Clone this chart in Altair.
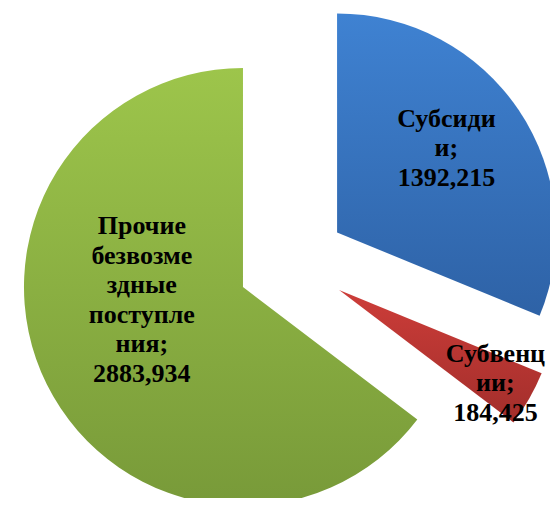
import altair as alt
import pandas as pd

categories = ["Субсидии", "Субвенции", "Прочие безвозмездные поступления"]
values = [1392.215, 184.425, 2883.934]
labels = [
    "Субсиди\nи;\n1392,215",
    "Субвенц\nии;\n184,425",
    "Прочие\nбезвозме\nздные\nпоступле\nния;\n2883,934",
]

# styling
gradients = {
    "Субсидии": ("#3f82d2", "#2e62a6"),
    "Субвенции": ("#cd3d39", "#a22e2b"),
    "Прочие безвозмездные поступления": ("#9dc54b", "#789a39"),
}
label_r = {"Субсидии": 138, "Субвенции": 182, "Прочие безвозмездные поступления": 102}
label_nudge = {"Субсидии": -3.8, "Субвенции": 1.0, "Прочие безвозмездные поступления": 19.0}

CX, CY, EXPLODE, R = 283.8, 254.8, 54.5, 219
LINE_H = 29.5

df = pd.DataFrame({
    "idx": list(range(len(categories))),
    "category": categories,
    "value": values,
    "label": labels,
    "lr": [label_r[c] for c in categories],
    "ln": [label_nudge[c] for c in categories],
})

base = alt.Chart(df).transform_joinaggregate(
    total="sum(value)"
).transform_window(
    cum="sum(value)", sort=[alt.SortField("idx")], frame=[None, 0]
).transform_calculate(
    t0="2*PI*(datum.cum - datum.value)/datum.total",
    t1="2*PI*datum.cum/datum.total",
).transform_calculate(
    mid="(datum.t0 + datum.t1)/2",
).transform_calculate(
    cx=f"{CX} + {EXPLODE}*sin(datum.mid)",
    cy=f"{CY} - {EXPLODE}*cos(datum.mid)",
    nl="length(split(datum.label, '\\n'))",
).transform_calculate(
    lx="datum.cx + datum.lr*sin(datum.mid + datum.ln*PI/180)",
    ly=f"datum.cy - datum.lr*cos(datum.mid + datum.ln*PI/180) - (datum.nl - 1)*{LINE_H}/2",
)

layers = []
for cat in categories:
    top, bottom = gradients[cat]
    grad = alt.LinearGradient(
        gradient="linear",
        stops=[alt.GradientStop(color=top, offset=0), alt.GradientStop(color=bottom, offset=1)],
        x1=0, x2=0, y1=0, y2=1,
    )
    layers.append(
        base.transform_filter(alt.datum.category == cat).mark_arc(radius=R, fill=grad).encode(
            x=alt.X("cx:Q", scale=None, axis=None),
            y=alt.Y("cy:Q", scale=None, axis=None),
            theta=alt.Theta("t0:Q", scale=None),
            theta2="t1:Q",
        )
    )

text = base.mark_text(
    font="Times New Roman, Liberation Serif, serif", fontSize=26, fontWeight="bold", color="black",
    lineBreak="\n", lineHeight=LINE_H, align="center", baseline="middle",
).encode(
    x=alt.X("lx:Q", scale=None, axis=None),
    y=alt.Y("ly:Q", scale=None, axis=None),
    text="label:N",
)

chart = alt.layer(*layers, text).properties(
    width=542, height=490, padding=0, autosize=alt.AutoSizeParams(type="none"),
    background="white",
).configure_view(strokeWidth=0)

chart.save("out.html", embed_options={"renderer": "svg", "actions": False})
